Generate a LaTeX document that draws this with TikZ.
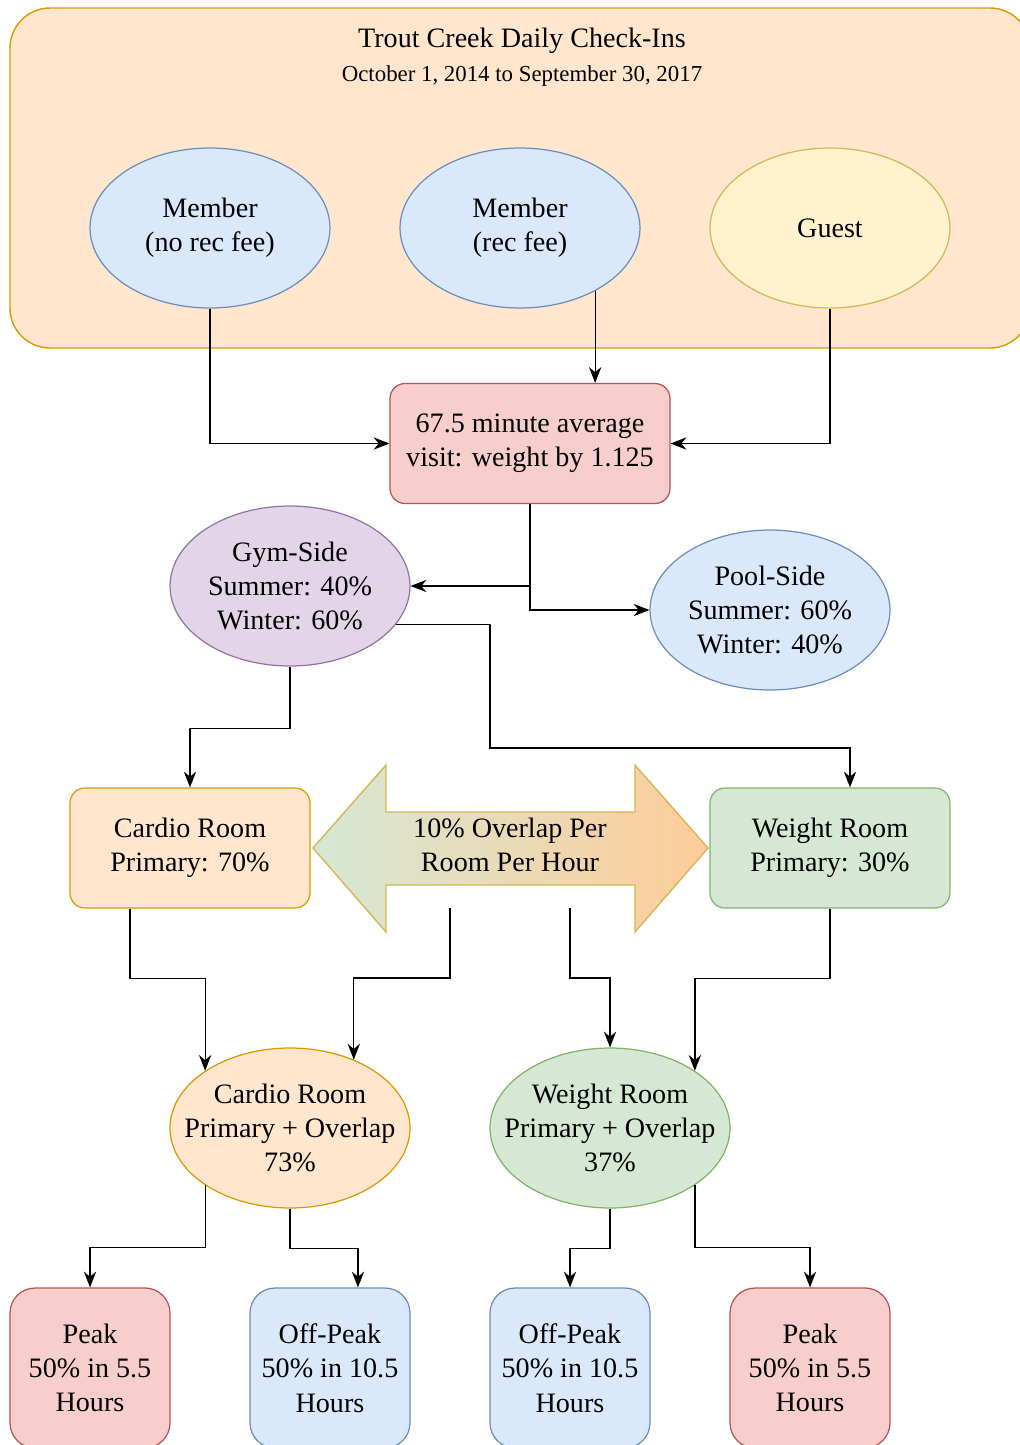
\documentclass[tikz,border=0pt]{standalone}
\usepackage{fontspec}
\setmainfont{Liberation Serif}
\usetikzlibrary{arrows.meta,shapes.geometric}

\definecolor{orangefill}{HTML}{FFE6CC}
\definecolor{orangeline}{HTML}{D79B00}
\definecolor{bluefill}{HTML}{DAE8FC}
\definecolor{blueline}{HTML}{6C8EBF}
\definecolor{yellowfill}{HTML}{FFF2CC}
\definecolor{yellowline}{HTML}{D6B656}
\definecolor{redfill}{HTML}{F8CECC}
\definecolor{redline}{HTML}{B85450}
\definecolor{purplefill}{HTML}{E1D5E7}
\definecolor{purpleline}{HTML}{9673A6}
\definecolor{greenfill}{HTML}{D5E8D4}
\definecolor{greenline}{HTML}{82B366}
\definecolor{peachend}{HTML}{FFCC99}

\tikzset{
  txt/.style={align=center, font=\fontsize{16}{19.5}\selectfont},
  oval/.style={txt, ellipse, draw, line width=0.7pt, minimum width=4.8cm, minimum height=3.2cm, inner sep=0pt},
  wideoval/.style={oval, inner xsep=-0.45cm},
  roombox/.style={txt, draw, line width=0.7pt, rounded corners=0.3cm, minimum width=4.8cm, minimum height=2.4cm},
  hourbox/.style={txt, draw, line width=0.7pt, rounded corners=0.5cm, minimum width=3.2cm, minimum height=3.2cm, inner sep=0pt},
  arr/.style={-{Stealth[length=9pt,width=7pt]}, line width=0.7pt},
}

\begin{document}
\begin{tikzpicture}[x=0.02cm, y=-0.02cm]
\useasboundingbox (0,0) rectangle (1019,1445);

% check-in group
\draw[orangeline, fill=orangefill, line width=0.8pt, rounded corners=0.8cm] (10,8) rectangle (1030,348);
\node[txt] (title) at (522,41) {Trout Creek Daily Check-Ins};
\node[font=\fontsize{13}{16}\selectfont] (dates) at (522,76) {October 1, 2014 to September 30, 2017};

\node[oval, draw=blueline, fill=bluefill] (memA) at (210,228) {Member\\(no rec fee)};
\node[oval, draw=blueline, fill=bluefill] (memB) at (520,228) {Member\\(rec fee)};
\node[oval, draw=yellowline, fill=yellowfill] (guest) at (830,228) {Guest};

\node[txt, draw=redline, fill=redfill, line width=0.7pt, rounded corners=0.3cm, minimum width=5.6cm, minimum height=2.4cm] (visit) at (530,443.5) {67.5 minute average\\visit: weight by 1.125};

\node[oval, draw=purpleline, fill=purplefill] (gym) at (290,586) {Gym-Side\\Summer: 40\%\\Winter: 60\%};
\node[oval, draw=blueline, fill=bluefill] (pool) at (770,610) {Pool-Side\\Summer: 60\%\\Winter: 40\%};

\node[roombox, draw=orangeline, fill=orangefill] (cardio) at (190,848) {Cardio Room\\Primary: 70\%};
\node[roombox, draw=greenline, fill=greenfill] (weight) at (830,848) {Weight Room\\Primary: 30\%};

% overlap arrow
\draw[yellowline, line width=0.8pt, left color=greenfill, right color=peachend]
  (313,848) -- (386,765) -- (386,812) -- (635,812) -- (635,765) -- (708,848)
  -- (635,932) -- (635,885) -- (386,885) -- (386,932) -- cycle;
\node[txt] (overlap) at (510,845) {10\% Overlap Per\\Room Per Hour};
\coordinate (ovL) at (450,908);
\coordinate (ovR) at (570,908);

\node[wideoval, draw=orangeline, fill=orangefill] (cardioAll) at (290,1128) {Cardio Room\\Primary + Overlap\\73\%};
\node[wideoval, draw=greenline, fill=greenfill] (weightAll) at (610,1128) {Weight Room\\Primary + Overlap\\37\%};

\node[hourbox, draw=redline, fill=redfill] (peakA) at (90,1368) {Peak\\50\% in 5.5\\Hours};
\node[hourbox, draw=blueline, fill=bluefill] (offA) at (330,1368) {Off-Peak\\50\% in 10.5\\Hours};
\node[hourbox, draw=blueline, fill=bluefill] (offB) at (570,1368) {Off-Peak\\50\% in 10.5\\Hours};
\node[hourbox, draw=redline, fill=redfill] (peakB) at (810,1368) {Peak\\50\% in 5.5\\Hours};

% connectors
\draw[arr] (memA.south) |- (visit.west);
\draw[arr] (memB.-40) -- (memB.-40 |- visit.north);
\draw[arr] (guest.south) |- (visit.east);
\draw[arr] (visit.south) |- (gym.east);
\draw[arr] (visit.south) |- (pool.west);
\draw[arr] (gym.south) -- ++(0,62) -| (cardio.north);
\draw[arr] (gym.-20) -| (490,748) -| ([xshift=0.4cm]weight.north);
\draw[arr] ([xshift=-1.2cm]cardio.south) -- ++(0,70) -| (cardioAll.146);
\draw[arr] (ovL) -- ++(0,70) -| (cardioAll.47);
\draw[arr] (ovR) -- ++(0,70) -| (weightAll.north);
\draw[arr] (weight.south) -- ++(0,70) -| (weightAll.34);
\draw[arr] (cardioAll.214) -- ++(0,62) -| (peakA.north);
\draw[arr] (cardioAll.south) -- ++(0,40) -| ([xshift=0.56cm]offA.north);
\draw[arr] (weightAll.south) -- ++(0,40) -| (offB.north);
\draw[arr] (weightAll.-34) -- ++(0,62) -| (peakB.north);
\end{tikzpicture}
\end{document}
